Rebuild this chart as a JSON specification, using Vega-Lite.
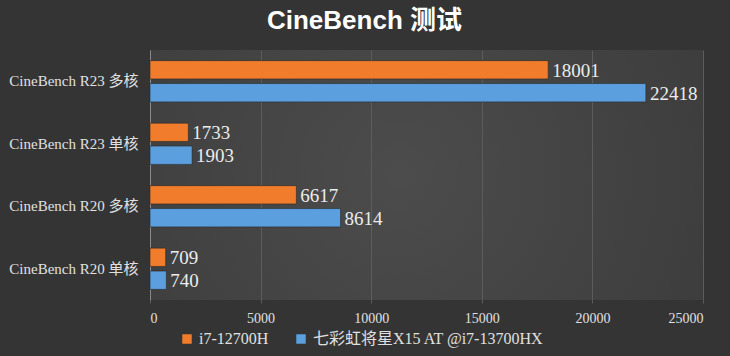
{
  "$schema": "https://vega.github.io/schema/vega-lite/v6.json",
  "width": 553,
  "height": 250,
  "autosize": "none",
  "padding": {"left": 150, "top": 50, "right": 27, "bottom": 56},
  "background": "#343434",
  "title": {
    "text": "CineBench 测试",
    "font": "Liberation Sans, Noto Sans CJK SC",
    "fontSize": 26,
    "fontWeight": "bold",
    "color": "#ffffff",
    "anchor": "middle",
    "dx": -62,
    "baseline": "alphabetic",
    "offset": -5
  },
  "data": {
    "values": [
      {"test": "CineBench R23 多核", "cpu": "i7-12700H", "score": 18001},
      {"test": "CineBench R23 多核", "cpu": "七彩虹将星X15 AT @i7-13700HX", "score": 22418},
      {"test": "CineBench R23 单核", "cpu": "i7-12700H", "score": 1733},
      {"test": "CineBench R23 单核", "cpu": "七彩虹将星X15 AT @i7-13700HX", "score": 1903},
      {"test": "CineBench R20 多核", "cpu": "i7-12700H", "score": 6617},
      {"test": "CineBench R20 多核", "cpu": "七彩虹将星X15 AT @i7-13700HX", "score": 8614},
      {"test": "CineBench R20 单核", "cpu": "i7-12700H", "score": 709},
      {"test": "CineBench R20 单核", "cpu": "七彩虹将星X15 AT @i7-13700HX", "score": 740}
    ]
  },
  "encoding": {
    "y": {
      "field": "test", "type": "nominal", "sort": null, "title": null,
      "scale": {"paddingInner": 0.34, "paddingOuter": 0.17},
      "axis": {
        "domainColor": "#8a8a8a", "ticks": false, "labelPadding": 12,
        "labelFont": "Liberation Serif, Noto Sans CJK SC", "labelFontSize": 15,
        "labelColor": "#e0e0e0"
      }
    },
    "yOffset": {
      "field": "cpu", "type": "nominal", "sort": ["i7-12700H", "七彩虹将星X15 AT @i7-13700HX"],
      "scale": {"paddingInner": 0.2}
    },
    "x": {
      "field": "score", "type": "quantitative", "title": null,
      "scale": {"domain": [0, 25000], "nice": false},
      "axis": {
        "values": [0, 5000, 10000, 15000, 20000, 25000],
        "format": "d", "domain": false, "gridColor": "#5c5c5c", "gridWidth": 1,
        "tickColor": "#5c5c5c", "tickSize": 3, "labelPadding": 8,
        "labelFont": "Liberation Serif", "labelFontSize": 14, "labelColor": "#e0e0e0"
      }
    }
  },
  "layer": [
    {
      "mark": {"type": "bar", "stroke": "#2a2a2a", "strokeWidth": 0.6},
      "encoding": {
        "color": {
          "field": "cpu", "type": "nominal", "title": null,
          "sort": ["i7-12700H", "七彩虹将星X15 AT @i7-13700HX"],
          "scale": {"range": ["#F07C2C", "#5B9FDE"]},
          "legend": {
            "orient": "none", "direction": "horizontal", "legendX": 29, "legendY": 281,
            "symbolType": "square", "symbolSize": 90, "symbolStrokeWidth": 0,
            "labelFont": "Liberation Serif, Noto Sans CJK SC", "labelFontSize": 16,
            "labelColor": "#e0e0e0", "columnPadding": 24, "labelOffset": 4, "labelLimit": 0
          }
        }
      }
    },
    {
      "mark": {"type": "text", "align": "left", "baseline": "middle", "dx": 4, "dy": 1,
        "font": "Liberation Serif", "fontSize": 19, "color": "#ececec"},
      "encoding": {"text": {"field": "score", "type": "quantitative", "format": "d"}}
    }
  ],
  "config": {
    "view": {
      "stroke": null,
      "fill": {
        "gradient": "radial", "x1": 0.45, "y1": 0.5, "x2": 0.45, "y2": 0.5, "r1": 0, "r2": 0.8,
        "stops": [{"offset": 0, "color": "#4c4c4c"}, {"offset": 1, "color": "#383838"}]
      }
    }
  }
}
